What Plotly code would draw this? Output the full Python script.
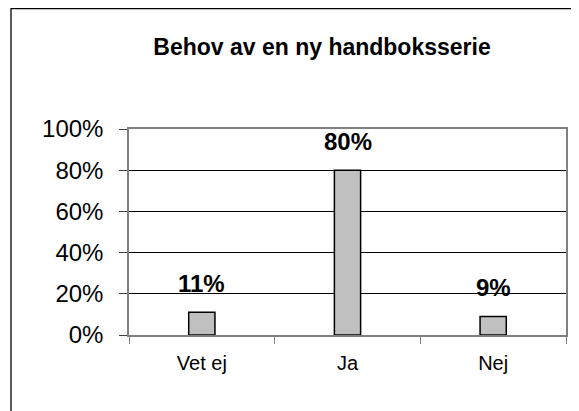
import plotly.graph_objects as go

categories = ["Vet ej", "Ja", "Nej"]
values = [11, 80, 9]
labels = ["11%", "80%", "9%"]
yticks = [0, 20, 40, 60, 80, 100]
yticklabels = ["0%", "20%", "40%", "60%", "80%", "100%"]

# the page body adds an 8px margin, so the figure is 8px smaller
W, H = 571, 403
L, R, T, B = 121, 13, 121, 76
pw, ph = W - L - R, H - T - B
FONT = "Liberation Sans, Arial"

fig = go.Figure()
fig.add_trace(go.Bar(
    x=categories, y=values,
    marker=dict(color="#C0C0C0", line=dict(color="#000000", width=1.5)),
    width=0.18,
    hoverinfo="skip",
))

for c, v, t in zip(categories, values, labels):
    fig.add_annotation(x=c, y=v, text="<b>%s</b>" % t, showarrow=False,
                       yanchor="bottom", yshift=13,
                       font=dict(family=FONT, size=24, color="#000"))

def px_x(p):
    return (p - L) / pw

def px_y(p):
    return (H - B - p) / ph

fig.add_shape(type="rect", xref="paper", yref="paper",
              x0=px_x(3), x1=px_x(600), y0=px_y(0.5), y1=px_y(430),
              line=dict(color="#000000", width=1.3), fillcolor="rgba(0,0,0,0)",
              layer="below")

fig.update_layout(
    width=W, height=H,
    margin=dict(l=L, r=R, t=T, b=B, pad=0),
    paper_bgcolor="white", plot_bgcolor="white",
    showlegend=False,
    title=dict(text="<b>Behov av en ny handboksserie</b>",
               x=314 / W, xanchor="center", xref="container",
               y=1 - 39 / H, yanchor="middle", yref="container",
               font=dict(family=FONT, size=23, color="#000")),
    font=dict(family=FONT, color="#000"),
)
fig.update_xaxes(
    type="category", showgrid=False, zeroline=False,
    showline=True, linecolor="#808080", linewidth=1.5, mirror=True,
    ticks="outside", tickson="boundaries", ticklen=7, tickcolor="#808080",
    tickfont=dict(size=20, color="#000"), ticklabelstandoff=9,
    fixedrange=True,
)
fig.update_yaxes(
    range=[0, 100], tickvals=yticks, ticktext=yticklabels,
    showgrid=True, gridcolor="#000000", gridwidth=1,
    zeroline=False,
    showline=True, linecolor="#808080", linewidth=1.5, mirror=True,
    ticks="outside", ticklen=8, tickcolor="#404040",
    tickfont=dict(size=24, color="#000"), ticklabelstandoff=11,
    fixedrange=True,
)

fig.write_html("out.html", config={"displayModeBar": False})
